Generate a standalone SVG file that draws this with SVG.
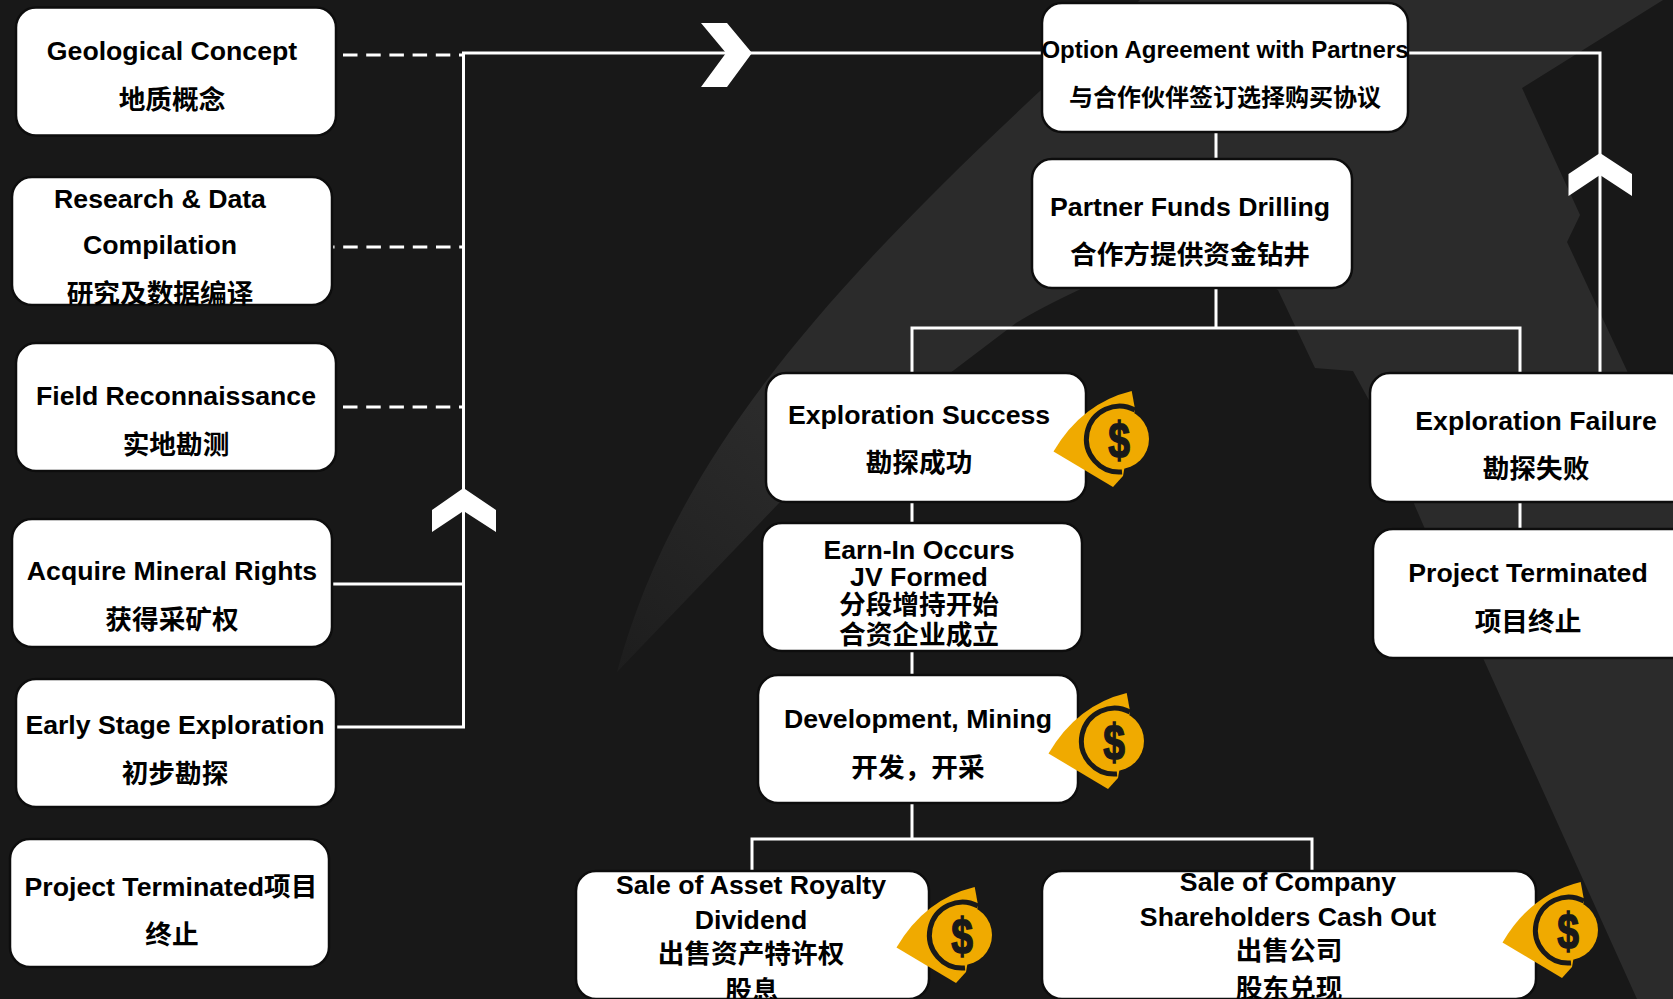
<svg xmlns="http://www.w3.org/2000/svg" width="1673" height="999" viewBox="0 0 1673 999">
<style>
.box{fill:#fff;stroke:#0d0d0d;stroke-width:2.5}
.t{font-family:"Liberation Sans","Noto Sans CJK SC",sans-serif;font-weight:700;font-size:26.67px;fill:#000;text-anchor:middle}
.s{font-size:24px}
.c{stroke:#fff;stroke-width:3;fill:none}
.d{stroke:#fff;stroke-width:3;fill:none;stroke-dasharray:14.5 8.7}
.a{fill:#fff}
.usd{font-family:"Liberation Sans",sans-serif;font-weight:700;font-size:50px;fill:#191919;stroke:#191919;stroke-width:1.5;text-anchor:middle}
</style>
<defs>
<linearGradient id="sw" gradientUnits="userSpaceOnUse" x1="617" y1="672" x2="800" y2="440">
<stop offset="0" stop-color="#1d1d1d"/><stop offset="1" stop-color="#2b2b2b"/>
</linearGradient>
<g id="fan">
<path d="M1053.5,451.5 Q1082,403 1131.7,391 L1135,409 L1123,476 L1113,487 Z" fill="#f0aa00"/>
<circle cx="1119" cy="439" r="30" fill="#f0aa00"/>
<path d="M1135,410 A33,33 0 1 0 1122,472" fill="none" stroke="#191919" stroke-width="5"/>
</g>
</defs>
<rect id="bg" width="1673" height="999" fill="#181818"/>
<path id="bg-shape" fill="url(#sw)" d="M617,672 C680,440 850,260 1140,0 L1663,0 L1522,88 L1580,215 L1567,242 L1628,373 L1673,470 L1673,999 L1637,999 L1483,658 L1425,529 L1370,402 L1353,371 L1315,368 L1278,290 L1200,250 L1085,287 Q1040,308 1016,323 L780,502 Z"/>
<g id="connectors">
<path class="d" d="M343,55H463"/>
<path class="d" d="M320,247H463"/>
<path class="d" d="M343,407H463"/>
<path class="c" d="M331,584H463"/>
<path class="c" d="M336,727H463.5V53H1043"/>
<path class="c" d="M1407,53H1600V374"/>
<path class="c" d="M1216,131V160M1216,287V328"/>
<path class="c" d="M912,374V328H1520V374"/>
<path class="c" d="M912,501V524M912,650V676M912,802V839"/>
<path class="c" d="M752,872V839H1312V872"/>
<path class="c" d="M1520,501V530"/>
<polygon class="a" points="701,23 727,23 752,53 727,87 701,87 726,53"/>
<polygon class="a" points="463.5,488 496,510 496,532 463.5,511 432,532 432,510"/>
<polygon class="a" points="1600,153 1632,174 1632,196 1600,175 1568.5,196 1568.5,174"/>
</g>
<g id="n-geological"><rect class="box" x="16" y="7.5" width="320" height="128" rx="20"/><text class="t" x="172" y="60">Geological Concept</text><text class="t" x="172" y="109">地质概念</text></g>
<g id="n-research"><rect class="box" x="12" y="177" width="320" height="128" rx="20"/><text class="t" x="160" y="208">Research &amp; Data</text><text class="t" x="160" y="254">Compilation</text><text class="t" x="160" y="303">研究及数据编译</text></g>
<g id="n-field"><rect class="box" x="16" y="343" width="320" height="128" rx="20"/><text class="t" x="176" y="405">Field Reconnaissance</text><text class="t" x="176" y="454">实地勘测</text></g>
<g id="n-acquire"><rect class="box" x="12" y="519" width="320" height="128" rx="20"/><text class="t" x="172" y="580">Acquire Mineral Rights</text><text class="t" x="172" y="629">获得采矿权</text></g>
<g id="n-early"><rect class="box" x="16" y="679" width="320" height="128" rx="20"/><text class="t" x="175" y="734">Early Stage Exploration</text><text class="t" x="175" y="783">初步勘探</text></g>
<g id="n-terminated-left"><rect class="box" x="10" y="839" width="319" height="128" rx="20"/><text class="t" x="171" y="896">Project Terminated项目</text><text class="t" x="172" y="944">终止</text></g>
<g id="n-option"><rect class="box" x="1042" y="3" width="366" height="129" rx="20"/><text class="t s" x="1225" y="58">Option Agreement with Partners</text><text class="t s" x="1225" y="106">与合作伙伴签订选择购买协议</text></g>
<g id="n-partner"><rect class="box" x="1032" y="159" width="320" height="129" rx="20"/><text class="t" x="1190" y="216">Partner Funds Drilling</text><text class="t" x="1190" y="264">合作方提供资金钻井</text></g>
<g id="n-success"><rect class="box" x="766" y="373" width="320" height="129" rx="20"/><text class="t" x="919" y="424">Exploration Success</text><text class="t" x="919" y="472">勘探成功</text></g>
<g id="n-failure"><rect class="box" x="1370" y="373" width="320" height="129" rx="20"/><text class="t" x="1536" y="430">Exploration Failure</text><text class="t" x="1536" y="478">勘探失败</text></g>
<g id="n-earnin"><rect class="box" x="762" y="523" width="320" height="128" rx="20"/><text class="t" x="919" y="559">Earn-In Occurs</text><text class="t" x="919" y="586">JV Formed</text><text class="t" x="919" y="614">分段增持开始</text><text class="t" x="919" y="644">合资企业成立</text></g>
<g id="n-development"><rect class="box" x="758" y="675" width="320" height="128" rx="20"/><text class="t" x="918" y="728">Development, Mining</text><text class="t" x="918" y="777">开发，开采</text></g>
<g id="n-terminated-right"><rect class="box" x="1373" y="529" width="320" height="129" rx="20"/><text class="t" x="1528" y="582">Project Terminated</text><text class="t" x="1528" y="631">项目终止</text></g>
<g id="n-sale-asset"><rect class="box" x="576" y="871" width="353" height="128" rx="20"/><text class="t" x="751" y="894">Sale of Asset Royalty</text><text class="t" x="751" y="929">Dividend</text><text class="t" x="751" y="963">出售资产特许权</text><text class="t" x="752" y="1000">股息</text></g>
<g id="n-sale-company"><rect class="box" x="1042" y="871" width="494" height="128" rx="20"/><text class="t" x="1288" y="891">Sale of Company</text><text class="t" x="1288" y="926">Shareholders Cash Out</text><text class="t" x="1289" y="960">出售公司</text><text class="t" x="1289" y="998">股东兑现</text></g>
<g id="coin-1"><use href="#fan"/><text class="usd" transform="translate(1119,457) scale(.78,1)">$</text></g>
<g id="coin-2"><use href="#fan" x="-5" y="302"/><text class="usd" transform="translate(1114,759) scale(.78,1)">$</text></g>
<g id="coin-3"><use href="#fan" x="-157" y="496"/><text class="usd" transform="translate(962,953) scale(.78,1)">$</text></g>
<g id="coin-4"><use href="#fan" x="449" y="491"/><text class="usd" transform="translate(1568,948) scale(.78,1)">$</text></g>
</svg>
